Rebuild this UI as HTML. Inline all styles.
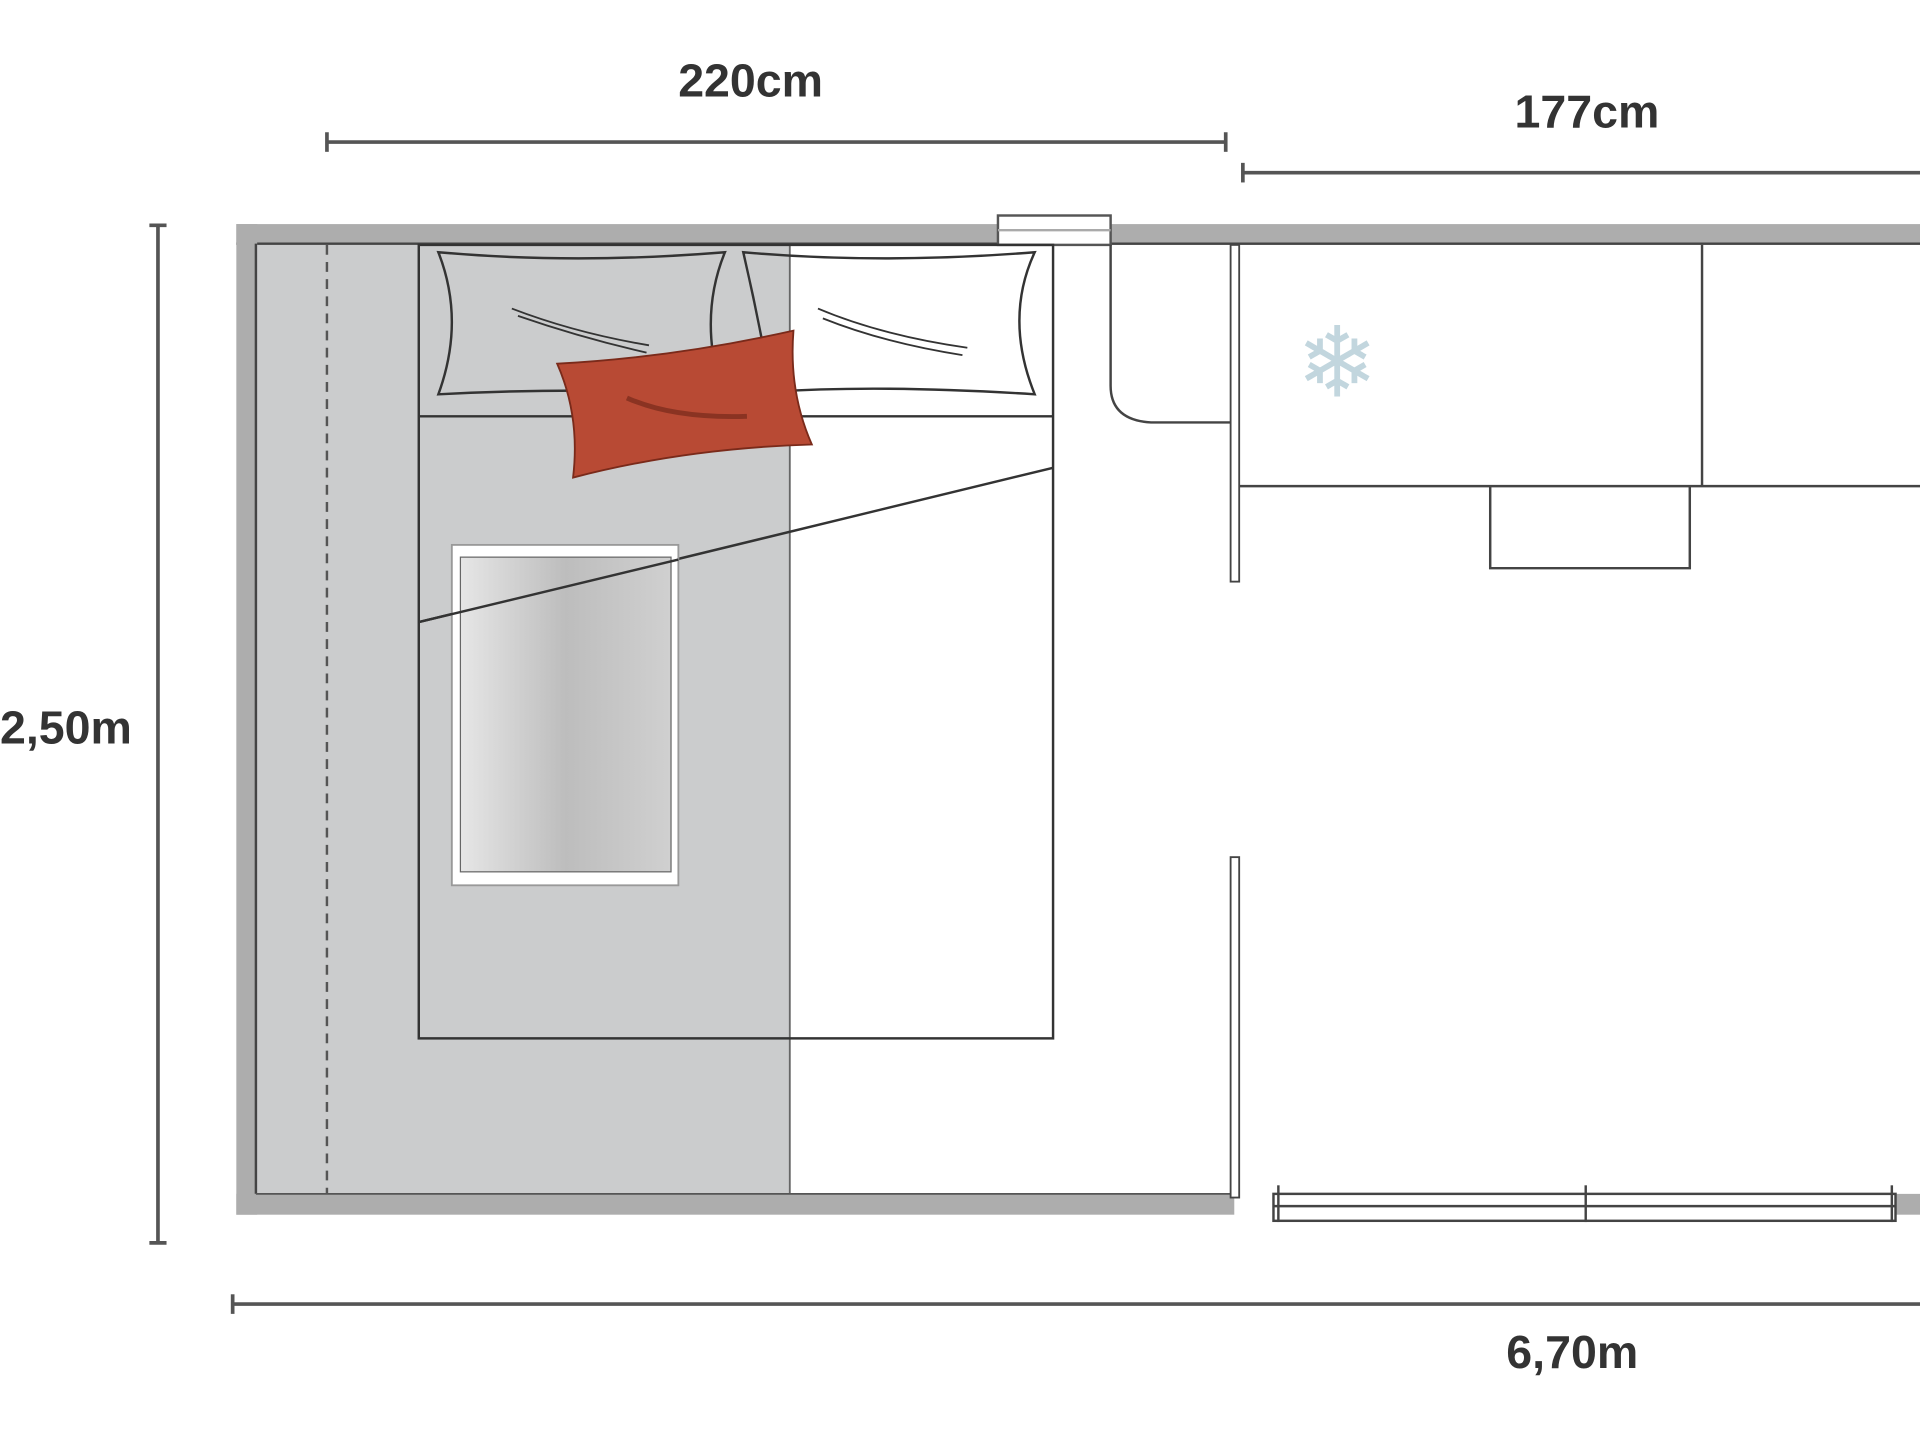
<!DOCTYPE html>
<html><head><meta charset="utf-8"><style>
html,body{margin:0;padding:0;background:#fff;width:1920px;height:1440px;overflow:hidden}
svg{display:block}
text{font-family:"Liberation Sans",sans-serif;font-weight:bold;fill:#333}
</style></head><body>
<svg width="1920" height="1440" viewBox="0 0 1568 1176" preserveAspectRatio="none" xmlns="http://www.w3.org/2000/svg">
<defs>
<linearGradient id="g" x1="0" x2="1" y1="0" y2="0">
<stop offset="0" stop-color="#e6e6e6"/><stop offset="0.5" stop-color="#bdbdbd"/><stop offset="1" stop-color="#d0d0d0"/>
</linearGradient>
</defs>
<text x="613" y="79" font-size="38" text-anchor="middle">220cm</text>
<text x="1296" y="104" font-size="38" text-anchor="middle">177cm</text>
<text x="0" y="607" font-size="38">2,50m</text>
<text x="1284" y="1117" font-size="38" text-anchor="middle">6,70m</text>
<g stroke="#555" stroke-width="3" fill="none">
<line x1="267" y1="116" x2="1001" y2="116"/><line x1="267" y1="108" x2="267" y2="124"/><line x1="1001" y1="108" x2="1001" y2="124"/>
<line x1="1015" y1="141" x2="1568" y2="141"/><line x1="1015" y1="133" x2="1015" y2="149"/>
<line x1="129" y1="184" x2="129" y2="1015"/><line x1="122" y1="184" x2="136" y2="184"/><line x1="122" y1="1015" x2="136" y2="1015"/>
<line x1="190" y1="1065" x2="1568" y2="1065"/><line x1="190" y1="1057" x2="190" y2="1073"/>
</g>
<rect x="210" y="200" width="435" height="775" fill="#cbcccd"/>
<line x1="267" y1="200" x2="267" y2="975" stroke="#555" stroke-width="2" stroke-dasharray="8,6"/>
<line x1="645" y1="200" x2="645" y2="975" stroke="#666" stroke-width="1.5"/>
<rect x="193" y="183" width="1375" height="17" fill="#adadad"/>
<line x1="193" y1="199" x2="1568" y2="199" stroke="#444" stroke-width="2"/>
<rect x="193" y="183" width="17" height="809" fill="#adadad"/>
<line x1="209" y1="199" x2="209" y2="975" stroke="#444" stroke-width="2"/>
<rect x="193" y="975" width="815" height="17" fill="#adadad"/>
<line x1="209" y1="975" x2="1008" y2="975" stroke="#555" stroke-width="1.5"/>
<rect x="1548" y="975" width="20" height="17" fill="#adadad"/>
<rect x="815" y="176" width="92" height="24" fill="#fff" stroke="#555" stroke-width="2"/>
<line x1="815" y1="188" x2="907" y2="188" stroke="#aaa" stroke-width="2"/>
<g stroke="#444" stroke-width="2" fill="#fff">
<rect x="1040" y="975" width="508" height="22"/>
<line x1="1040" y1="985" x2="1548" y2="985"/>
<line x1="1295" y1="968" x2="1295" y2="998"/>
<line x1="1044" y1="968" x2="1044" y2="998"/><line x1="1545" y1="968" x2="1545" y2="998"/>
</g>
<g stroke="#333" stroke-width="2" fill="none">
<rect x="342" y="200" width="518" height="648"/>
<line x1="342" y1="340" x2="860" y2="340"/>
<line x1="342" y1="508" x2="860" y2="382"/>
<path d="M358 206 Q470 216 592 206 Q570 260 590 322 Q470 316 358 322 Q380 262 358 206Z"/>
<path d="M607 206 Q720 216 845 206 Q820 260 845 322 Q720 314 630 320 Q620 262 607 206Z"/>
<path d="M418 252 Q470 272 530 282 M423 258 Q475 276 528 288" stroke-width="1.5"/>
<path d="M668 252 Q720 274 790 284 M672 260 Q722 280 786 290" stroke-width="1.5"/>
</g>
<rect x="369" y="445" width="185" height="278" fill="#fff" stroke="#999" stroke-width="1.5"/>
<rect x="376" y="455" width="172" height="257" fill="url(#g)" stroke="#666" stroke-width="1"/>
<line x1="342" y1="508" x2="554" y2="457" stroke="#333" stroke-width="2"/>
<path d="M455 297 Q550 292 648 270 Q644 320 663 363 Q560 366 468 390 Q474 340 455 297Z" fill="#b84a34" stroke="#7a2a1a" stroke-width="1.5"/>
<path d="M512 325 Q550 342 610 340" stroke="#8a3322" stroke-width="4" fill="none"/>
<path d="M907 200 L907 315 Q907 343 940 345 L1005 345" fill="none" stroke="#444" stroke-width="2"/>
<rect x="1005" y="200" width="7" height="275" fill="#fff" stroke="#444" stroke-width="1.5"/>
<rect x="1005" y="700" width="7" height="278" fill="#fff" stroke="#444" stroke-width="1.5"/>
<g stroke="#444" stroke-width="2" fill="none">
<line x1="1012" y1="397" x2="1568" y2="397"/>
<line x1="1390" y1="200" x2="1390" y2="397"/>
<path d="M1217 397 L1217 464 L1380 464 L1380 397"/>
</g>
<text x="1092" y="324" font-size="80" text-anchor="middle" style="fill:#c2d6de;font-weight:normal">❄</text>
</svg>
</body></html>
